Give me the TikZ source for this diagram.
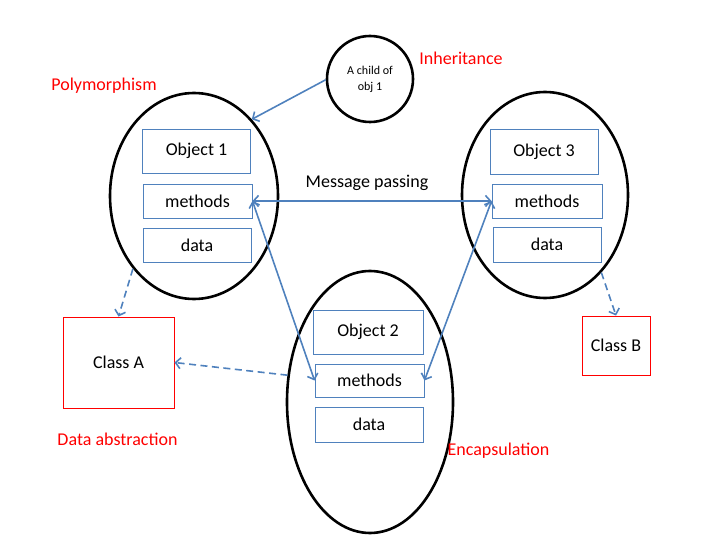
\documentclass[tikz,border=0pt]{standalone}
\usepackage{fontspec}
\setmainfont{Carlito}
\usetikzlibrary{arrows.meta,shapes.geometric}
\definecolor{lineblue}{HTML}{4F81BD}
\definecolor{textred}{HTML}{FF0000}

\begin{document}
\begin{tikzpicture}[
  x=1pt, y=-1pt,
  font=\fontsize{18}{22}\selectfont,
  objell/.style={draw, ellipse, line width=2.6pt, inner sep=0pt},
  part/.style={draw=lineblue, line width=0.9pt, inner sep=0pt, align=center},
  cls/.style={draw=textred, line width=0.9pt, inner sep=0pt, align=center},
  lbl/.style={text=textred, inner sep=1pt},
  arr/.style={-{Straight Barb[length=5pt,width=11pt]}, draw=lineblue, line width=1.6pt},
  darr/.style={arr, dash pattern=on 7pt off 4.5pt},
  biarr/.style={{Straight Barb[length=5pt,width=11pt]}-{Straight Barb[length=5pt,width=11pt]}, draw=lineblue, line width=1.6pt},
]
\useasboundingbox (0,0) rectangle (720,540);

% objects as ellipses
\node[objell, minimum width=168pt, minimum height=206pt] (o1) at (194,196) {};
\node[objell, minimum width=166pt, minimum height=206pt] (o3) at (545,195) {};
\node[objell, minimum width=166pt, minimum height=262pt] (o2) at (370,402) {};
\node[draw, circle, line width=2.6pt, minimum size=86pt, inner sep=0pt, align=center,
      font=\fontsize{12}{16}\selectfont] (child) at (370,79) {A child of\\obj 1};

% object 1
\node[part, minimum width=108pt, minimum height=44pt] (n1) at (196.5,151) {Object 1};
\node[part, minimum width=109pt, minimum height=34pt] (m1) at (197.5,201) {methods};
\node[part, minimum width=108pt, minimum height=34pt] (d1) at (197,245) {data};

% object 3
\node[part, minimum width=108pt, minimum height=45pt] (n3) at (544,151.5) {Object 3};
\node[part, minimum width=110pt, minimum height=34pt] (m3) at (547,201) {methods};
\node[part, minimum width=108pt, minimum height=35pt] (d3) at (547,244.5) {data};

% object 2
\node[part, minimum width=110pt, minimum height=44pt] (n2) at (368,332) {Object 2};
\node[part, minimum width=109pt, minimum height=33pt] (m2) at (369.5,380.5) {methods};
\node[part, minimum width=108pt, minimum height=35pt] (d2) at (369,424.5) {data};

% classes
\node[cls, minimum width=111pt, minimum height=91pt] (clsA) at (118.5,362.5) {Class A};
\node[cls, minimum width=68pt, minimum height=59pt] (clsB) at (616,345.5) {Class B};

% concept labels
\node[lbl] (poly) at (104,86) {Polymorphism};
\node[lbl] (inh) at (461,58) {Inheritance};
\node[lbl] (abst) at (117.5,439) {Data abstraction};
\node[lbl] (enc) at (498.5,451) {Encapsulation};
\node[inner sep=1pt] (msg) at (367,183) {Message passing};

\draw[arr] (child.181) -- (o1.53);
\draw[biarr] (m1.east) -- (m3.west);
\draw[biarr] (m1.east) -- (m2.west);
\draw[biarr] (m3.west) -- (m2.east);
\draw[darr] (o1.230) -- (clsA.north);
\draw[darr] (o2.162) -- (clsA.east);
\draw[darr] (o3.-54) -- (clsB.north);
\end{tikzpicture}
\end{document}
